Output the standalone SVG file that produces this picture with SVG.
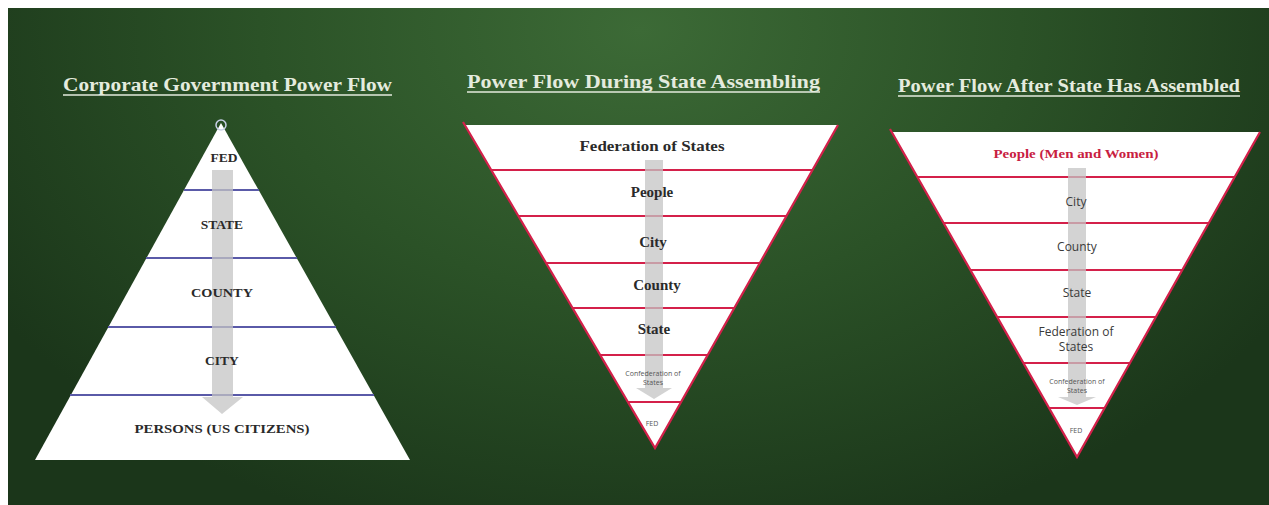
<svg xmlns="http://www.w3.org/2000/svg" width="1269" height="505" viewBox="0 0 1269 505">
  <defs>
    <radialGradient id="bg" gradientUnits="userSpaceOnUse" cx="640" cy="30" r="760" gradientTransform="translate(640 30) scale(1 0.7) translate(-640 -30)">
      <stop offset="0" stop-color="#3c6a36"/>
      <stop offset="0.5" stop-color="#2b5227"/>
      <stop offset="1" stop-color="#1b361a"/>
    </radialGradient>
  </defs>
  <style>
    .title { font-family: "Liberation Serif", "DejaVu Serif", serif; font-weight: bold; font-size: 18px; fill: #e4ebde; }
    .uline { stroke: #e4ebde; stroke-width: 1.3; }
    .tri { fill: #ffffff; }
    .blue { stroke: #5a5aa8; stroke-width: 2; }
    .red { stroke: #d4204a; stroke-width: 2.2; fill: none; }
    .arrow { fill: #c4c4c4; opacity: 0.75; }
    .cap { font-family: "Liberation Serif", "DejaVu Serif", serif; font-weight: bold; font-size: 13.5px; fill: #2a2a2a; text-anchor: middle; }
    .lbl { font-family: "Liberation Serif", "DejaVu Serif", serif; font-weight: bold; font-size: 15px; fill: #2a2a2a; text-anchor: middle; }
    .sans { font-family: "Open Sans", "Liberation Sans", sans-serif; font-size: 12px; fill: #3a3a3a; text-anchor: middle; }
    .tiny { font-family: "Open Sans", "Liberation Sans", sans-serif; font-size: 7px; fill: #555555; text-anchor: middle; }
    .redlbl { font-family: "Liberation Serif", "DejaVu Serif", serif; font-weight: bold; font-size: 13px; fill: #c8203f; text-anchor: middle; }
  </style>

  <rect x="0" y="0" width="1269" height="505" fill="#ffffff"/>
  <rect x="8" y="8" width="1261" height="497" fill="url(#bg)"/>

  <!-- Titles -->
  <g id="title-corporate">
    <text class="title" x="63" y="91" textLength="329" lengthAdjust="spacingAndGlyphs">Corporate Government Power Flow</text>
    <line class="uline" x1="63" y1="95" x2="392" y2="95"/>
  </g>
  <g id="title-during">
    <text class="title" x="467" y="88" textLength="353" lengthAdjust="spacingAndGlyphs">Power Flow During State Assembling</text>
    <line class="uline" x1="467" y1="92" x2="820" y2="92"/>
  </g>
  <g id="title-after">
    <text class="title" x="898" y="92" textLength="342" lengthAdjust="spacingAndGlyphs">Power Flow After State Has Assembled</text>
    <line class="uline" x1="898" y1="96" x2="1240" y2="96"/>
  </g>

  <!-- Pyramid 1 -->
  <g id="pyramid-corporate">
    <polygon class="tri" points="221,123 35,460 410,460"/>
    <circle cx="221" cy="125" r="5" fill="none" stroke="#c8d0e8" stroke-width="1.5"/>
    <line class="blue" x1="184" y1="190" x2="259" y2="190"/>
    <line class="blue" x1="146" y1="258" x2="297" y2="258"/>
    <line class="blue" x1="108" y1="327" x2="336" y2="327"/>
    <line class="blue" x1="70" y1="395" x2="374" y2="395"/>
  </g>

  <!-- Pyramid 2 -->
  <g id="pyramid-during">
    <polygon class="tri" points="465,125 838,125 655,448"/>
    <polyline class="red" points="463,122 655,448 838,125"/>
    <line class="red" x1="491" y1="170" x2="813" y2="170"/>
    <line class="red" x1="518" y1="216" x2="787" y2="216"/>
    <line class="red" x1="546" y1="263" x2="760" y2="263"/>
    <line class="red" x1="572" y1="308" x2="735" y2="308"/>
    <line class="red" x1="600" y1="355" x2="708" y2="355"/>
    <line class="red" x1="628" y1="402" x2="681" y2="402"/>
  </g>

  <!-- Pyramid 3 -->
  <g id="pyramid-after">
    <polygon class="tri" points="892,132 1260,132 1077,457"/>
    <polyline class="red" points="890,129 1077,457 1260,132"/>
    <line class="red" x1="917" y1="177" x2="1235" y2="177"/>
    <line class="red" x1="943" y1="223" x2="1209" y2="223"/>
    <line class="red" x1="970" y1="270" x2="1183" y2="270"/>
    <line class="red" x1="997" y1="317" x2="1156" y2="317"/>
    <line class="red" x1="1023" y1="363" x2="1130" y2="363"/>
    <line class="red" x1="1049" y1="408" x2="1105" y2="408"/>
  </g>

  <!-- Flow arrows -->
  <g id="connectors">
    <path class="arrow" d="M212,170 H233 V397 H243 L222,414 L202,397 H212 Z"/>
    <path class="arrow" d="M645,160 H663 V388 H672 L654,399 L636,388 H645 Z"/>
    <path class="arrow" d="M1068,168 H1086 V397 H1096 L1077,405 L1058,397 H1068 Z"/>
  </g>

  <!-- Labels pyramid 1 -->
  <g id="labels-corporate">
    <text class="cap" x="224" y="162">FED</text>
    <text class="cap" x="222" y="229">STATE</text>
    <text class="cap" x="222" y="297" textLength="62" lengthAdjust="spacingAndGlyphs">COUNTY</text>
    <text class="cap" x="222" y="365">CITY</text>
    <text class="cap" x="222" y="433" textLength="175" lengthAdjust="spacingAndGlyphs">PERSONS (US CITIZENS)</text>
  </g>

  <!-- Labels pyramid 2 -->
  <g id="labels-during">
    <text class="lbl" x="652" y="151" textLength="145" lengthAdjust="spacingAndGlyphs">Federation of States</text>
    <text class="lbl" x="652" y="197">People</text>
    <text class="lbl" x="653" y="247">City</text>
    <text class="lbl" x="657" y="290">County</text>
    <text class="lbl" x="654" y="334">State</text>
    <text class="tiny" x="653" y="376">Confederation of</text>
    <text class="tiny" x="653" y="385">States</text>
    <text class="tiny" x="652" y="426">FED</text>
  </g>

  <!-- Labels pyramid 3 -->
  <g id="labels-after">
    <text class="redlbl" x="1076" y="158" textLength="165" lengthAdjust="spacingAndGlyphs">People (Men and Women)</text>
    <text class="sans" x="1076" y="206">City</text>
    <text class="sans" x="1077" y="251">County</text>
    <text class="sans" x="1077" y="297">State</text>
    <text class="sans" x="1076" y="336">Federation of</text>
    <text class="sans" x="1076" y="351">States</text>
    <text class="tiny" x="1077" y="384">Confederation of</text>
    <text class="tiny" x="1077" y="393">States</text>
    <text class="tiny" x="1076" y="433">FED</text>
  </g>
</svg>
